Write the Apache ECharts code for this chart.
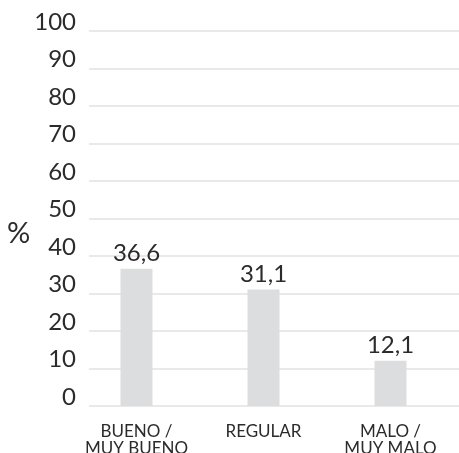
<!DOCTYPE html>
<html>
<head>
<meta charset="utf-8">
<script src="https://cdn.jsdelivr.net/npm/echarts@6/dist/echarts.min.js"></script>
<style>
  html, body { margin: 0; padding: 0; background: #fff; }
  #chart { width: 459px; height: 453px; }
</style>
</head>
<body>
<div id="chart"></div>
<script>
const categories = ['BUENO /\nMUY BUENO', 'REGULAR', 'MALO /\nMUY MALO'];
const values = [36.6, 31.1, 12.1];
const yMin = 0;
const yMax = 100;
const yStep = 10;

const chart = echarts.init(document.getElementById('chart'));

const textColor = '#2b2b2b';
const font = 'Lato';

const option = {
    animation: false,
    // grid 0: value axis + grid lines, grid 1: bars + categories
    grid: [
        { left: 89, right: 0, top: 31, bottom: 47, outerBoundsMode: 'none' },
        { left: 73, right: 5, top: 31, bottom: 47, outerBoundsMode: 'none' }
    ],
    graphic: [
        {
            type: 'text',
            left: 7,
            top: 219,
            style: { text: '%', fontFamily: font, fontSize: 29, fill: textColor }
        }
    ],
    xAxis: [
        { type: 'value', gridIndex: 0, show: false, min: 0, max: 1 },
        {
            type: 'category',
            gridIndex: 1,
            data: categories,
            axisLine: { show: false },
            axisTick: { show: false },
            axisLabel: {
                fontFamily: font,
                fontSize: 17,
                lineHeight: 17,
                color: textColor,
                margin: 17,
                interval: 0
            }
        }
    ],
    yAxis: [
        {
            type: 'value',
            gridIndex: 0,
            min: yMin,
            max: yMax,
            interval: yStep,
            axisLine: { show: false },
            axisTick: { show: false },
            axisLabel: {
                fontFamily: font,
                fontSize: 24,
                color: textColor,
                margin: 13,
                verticalAlign: 'bottom',
                lineHeight: 24,
                padding: [0, 0, -3, 0]
            },
            splitLine: { lineStyle: { color: '#e2e2e2', width: 1.5 } }
        },
        {
            type: 'value',
            gridIndex: 1,
            min: yMin,
            max: yMax,
            interval: yStep,
            show: false,
            splitLine: { show: false }
        }
    ],
    series: [
        {
            type: 'bar',
            xAxisIndex: 1,
            yAxisIndex: 1,
            data: values,
            barWidth: 32,
            itemStyle: { color: '#dcdddf' },
            label: {
                show: true,
                position: 'top',
                distance: 3,
                fontFamily: font,
                fontSize: 24,
                color: textColor,
                formatter: (p) => p.value.toFixed(1).replace('.', ',')
            }
        }
    ]
};

chart.setOption(option);
</script>
</body>
</html>
